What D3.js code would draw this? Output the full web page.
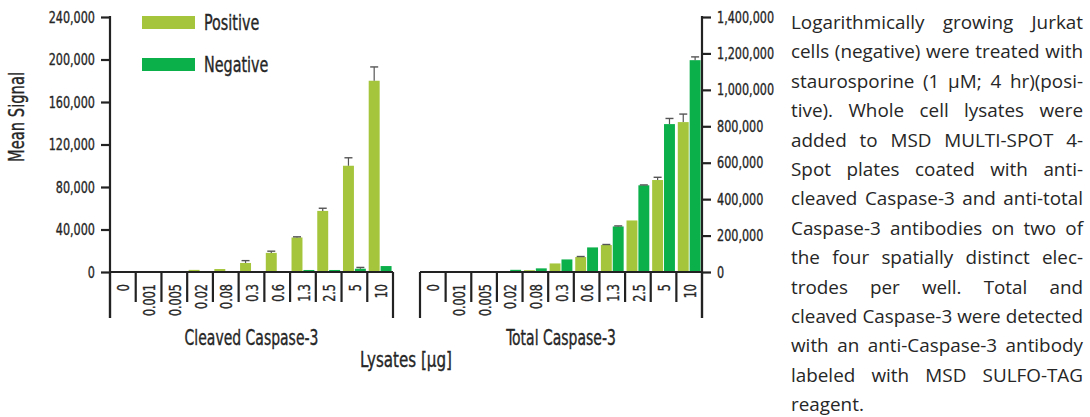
<!DOCTYPE html>
<html>
<head>
<meta charset="utf-8">
<script src="https://cdn.jsdelivr.net/npm/d3@7"></script>
<style>
  body { margin: 0; background: #fff; }
  svg text { fill: #262626; }
  .lbl { font-family: "DejaVu Sans Condensed", "DejaVu Sans", sans-serif; stroke: #262626; stroke-width: 0.35px; }
  .para { font-family: "Open Sans", "Noto Sans", sans-serif; fill: #333; }
</style>
</head>
<body>
<div id="chart"></div>
<script>
// 데이터
const doses = ["0", "0.001", "0.005", "0.02", "0.08", "0.3", "0.6", "1.3", "2.5", "5", "10"];
const seriesNames = ["Positive", "Negative"];

const cleavedPositive    = [0, 0, 0, 2000, 2800, 8500, 18000, 32500, 57500, 100000, 180000];
const cleavedPositiveErr = [0, 0, 0, 0, 0, 2200, 1600, 600, 2500, 7500, 13000];
const cleavedNegative    = [0, 0, 0, 0, 0, 0, 0, 1900, 1900, 3100, 5600];
const cleavedNegativeErr = [0, 0, 0, 0, 0, 0, 0, 0, 0, 1200, 0];

const totalPositive    = [0, 0, 0, 1000, 10000, 47000, 82000, 148000, 283000, 505000, 823000];
const totalPositiveErr = [0, 0, 0, 0, 0, 0, 3000, 3000, 0, 15000, 44000];
const totalNegative    = [0, 0, 0, 12000, 20000, 69000, 135000, 250000, 476000, 812000, 1163000];
const totalNegativeErr = [0, 0, 0, 0, 0, 0, 0, 3000, 2000, 31000, 18000];

const cleavedTicks = [0, 40000, 80000, 120000, 160000, 200000, 240000];
const totalTicks = [0, 200000, 400000, 600000, 800000, 1000000, 1200000, 1400000];

const panelTitles = ["Cleaved Caspase-3", "Total Caspase-3"];
const xTitle = "Lysates [\u00b5g]";
const yTitle = "Mean Signal";

const paragraphLines = [
  "Logarithmically growing Jurkat",
  "cells (negative) were treated with",
  "staurosporine (1 \u00b5M; 4 hr)(posi-",
  "tive).  Whole cell lysates were",
  "added to MSD MULTI-SPOT 4-",
  "Spot plates coated with anti-",
  "cleaved Caspase-3 and anti-total",
  "Caspase-3 antibodies on two of",
  "the four spatially distinct elec-",
  "trodes per well.  Total and",
  "cleaved Caspase-3 were detected",
  "with an anti-Caspase-3 antibody",
  "labeled with MSD SULFO-TAG",
  "reagent."
];

const colors = { Positive: "#a5c63c", Negative: "#0cb04b" };
const inkColor = "#222";
const narrow = 0.78; // 좁은 글꼴 흉내

const W = 1090, H = 417;
const plotTop = 17, plotBottom = 272;
const sepBottom = 302, frameBottom = 318;

const svg = d3.select("#chart").append("svg")
  .attr("width", W)
  .attr("height", H);

// 텍스트를 가로로 좁힘
function squeeze(sel, f) {
  sel.each(function() {
    const t = d3.select(this);
    const x = +t.attr("x") || 0, y = +t.attr("y") || 0;
    t.attr("x", null).attr("y", null)
      .attr("transform", `translate(${x},${y}) scale(${f},1)`);
  });
}

function makeRows(pos, posErr, neg, negErr) {
  return doses.map((d, i) => ({
    dose: d,
    bars: [
      { key: "Positive", value: pos[i], err: posErr[i] },
      { key: "Negative", value: neg[i], err: negErr[i] }
    ]
  }));
}

function drawPanel(opts) {
  const x0 = d3.scaleBand().domain(doses).range(opts.xRange).paddingInner(0).paddingOuter(0);
  const x1 = d3.scaleBand().domain(seriesNames).range([0, x0.bandwidth()])
    .paddingInner(0.08).paddingOuter(0.12);
  const y = d3.scaleLinear().domain(opts.yDomain).range([plotBottom, plotTop]);

  const g = svg.append("g");

  // 막대
  const groups = g.selectAll(".dose")
    .data(opts.rows)
    .enter().append("g")
    .attr("transform", d => `translate(${x0(d.dose)},0)`);

  groups.selectAll("rect")
    .data(d => d.bars)
    .enter().append("rect")
    .attr("x", d => x1(d.key))
    .attr("y", d => y(d.value))
    .attr("width", x1.bandwidth())
    .attr("height", d => y(0) - y(d.value))
    .attr("fill", d => colors[d.key]);

  // 오차 막대 (위쪽만)
  const eb = groups.selectAll(".err")
    .data(d => d.bars.filter(b => b.err > 0))
    .enter().append("g")
    .attr("class", "err");
  eb.append("line")
    .attr("x1", d => x1(d.key) + x1.bandwidth() / 2)
    .attr("x2", d => x1(d.key) + x1.bandwidth() / 2)
    .attr("y1", d => y(d.value))
    .attr("y2", d => y(d.value + d.err))
    .attr("stroke", "#555").attr("stroke-width", 1.2);
  eb.append("line")
    .attr("x1", d => x1(d.key) + x1.bandwidth() / 2 - 4)
    .attr("x2", d => x1(d.key) + x1.bandwidth() / 2 + 4)
    .attr("y1", d => y(d.value + d.err))
    .attr("y2", d => y(d.value + d.err))
    .attr("stroke", "#555").attr("stroke-width", 1.4);

  // 0 기준선
  const [xa, xb] = x0.range();
  g.append("line")
    .attr("x1", xa).attr("x2", xb)
    .attr("y1", y(0)).attr("y2", y(0))
    .attr("stroke", inkColor).attr("stroke-width", 2.2);

  // 구분선
  const bounds = doses.map(d => x0(d)).concat([xb]);
  g.selectAll(".sep")
    .data(bounds)
    .enter().append("line")
    .attr("x1", d => d).attr("x2", d => d)
    .attr("y1", y(0))
    .attr("y2", (d, i) => (i === 0 || i === bounds.length - 1) ? frameBottom : sepBottom)
    .attr("stroke", inkColor).attr("stroke-width", 2.2);

  // 회전된 용량 레이블
  g.selectAll(".dlabel")
    .data(doses)
    .enter().append("text")
    .attr("class", "lbl")
    .attr("transform", d => `translate(${x0(d) + x0.bandwidth() / 2 + 1},${y(0) + 12}) rotate(-90) scale(${narrow},1)`)
    .attr("dy", "0.35em")
    .attr("text-anchor", "end")
    .style("font-size", "16px")
    .text(d => d);

  // y축
  const axis = (opts.side === "left" ? d3.axisLeft(y) : d3.axisRight(y))
    .tickValues(opts.ticks)
    .tickSize(9)
    .tickSizeOuter(0)
    .tickPadding(6)
    .tickFormat(d3.format(","));
  const ax = svg.append("g")
    .attr("transform", `translate(${opts.side === "left" ? xa : xb},0)`)
    .call(axis);
  ax.select(".domain").remove();
  ax.selectAll(".tick line").attr("stroke", inkColor).attr("stroke-width", 2.2);
  ax.selectAll(".tick text")
    .attr("class", "lbl")
    .style("font-size", "16px")
    .attr("fill", "#262626")
    .call(squeeze, narrow);
  ax.append("line")
    .attr("x1", 0).attr("x2", 0)
    .attr("y1", plotTop - 1).attr("y2", frameBottom)
    .attr("stroke", inkColor).attr("stroke-width", 2.2);

  // 패널 제목
  svg.append("text")
    .attr("class", "lbl")
    .attr("x", (xa + xb) / 2)
    .attr("y", 345)
    .attr("text-anchor", "middle")
    .style("font-size", "21px")
    .text(opts.title)
    .call(squeeze, 0.74);

  return [xa, xb];
}

const leftRange = drawPanel({
  rows: makeRows(cleavedPositive, cleavedPositiveErr, cleavedNegative, cleavedNegativeErr),
  xRange: [110, 393],
  yDomain: [0, 240000],
  ticks: cleavedTicks,
  side: "left",
  title: panelTitles[0]
});

const rightRange = drawPanel({
  rows: makeRows(totalPositive, totalPositiveErr, totalNegative, totalNegativeErr),
  xRange: [420, 702],
  yDomain: [0, 1400000],
  ticks: totalTicks,
  side: "right",
  title: panelTitles[1]
});

// x축 제목
svg.append("text")
  .attr("class", "lbl")
  .attr("x", (leftRange[0] + rightRange[1]) / 2)
  .attr("y", 367)
  .attr("text-anchor", "middle")
  .style("font-size", "21px")
  .text(xTitle)
  .call(squeeze, 0.8);

// y축 제목
svg.append("text")
  .attr("class", "lbl")
  .attr("transform", `translate(24,117) rotate(-90) scale(0.78,1)`)
  .attr("text-anchor", "middle")
  .style("font-size", "21px")
  .text(yTitle);

// 범례
const legend = svg.append("g")
  .selectAll("g")
  .data(seriesNames)
  .enter().append("g")
  .attr("transform", (d, i) => `translate(142,${16 + i * 42})`);
legend.append("rect")
  .attr("width", 53).attr("height", 13)
  .attr("fill", d => colors[d]);
legend.append("text")
  .attr("class", "lbl")
  .attr("x", 62).attr("y", 13.5)
  .style("font-size", "21px")
  .text(d => d)
  .call(squeeze, 0.76);

// 설명 문단 (양쪽 정렬)
const paraLeft = 791, paraWidth = 292, lineH = 29.4, firstBase = 29;
const para = svg.append("g").attr("class", "para");
const probe = para.append("text").style("font-size", "20px");
let maxW = 0;
paragraphLines.forEach(l => {
  probe.text(l.replace(/\s+/g, " "));
  maxW = Math.max(maxW, probe.node().getComputedTextLength());
});
probe.remove();
const fs = Math.min(20, 20 * paraWidth / maxW);

paragraphLines.forEach((line, i) => {
  const words = line.split(/\s+/);
  const t = para.append("text")
    .attr("y", firstBase + i * lineH)
    .style("font-size", fs + "px");
  const isLast = i === paragraphLines.length - 1;
  if (isLast || words.length === 1) {
    t.attr("x", paraLeft).text(line);
    return;
  }
  const widths = words.map(w => {
    const s = t.append("tspan").text(w);
    const wd = s.node().getComputedTextLength();
    s.remove();
    return wd;
  });
  const gap = (paraWidth - d3.sum(widths)) / (words.length - 1);
  let cx = paraLeft;
  words.forEach((w, j) => {
    t.append("tspan").attr("x", cx).text(w);
    cx += widths[j] + gap;
  });
});
</script>
</body>
</html>
